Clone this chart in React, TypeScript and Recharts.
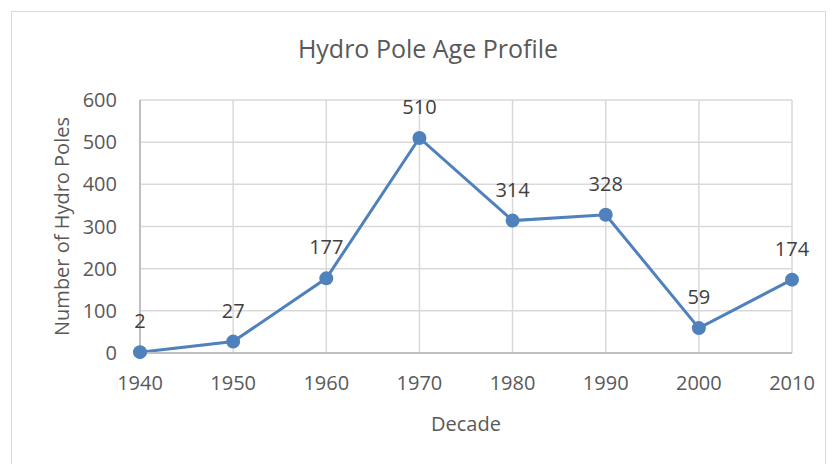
import { LineChart, Line, XAxis, YAxis, CartesianGrid, LabelList } from 'recharts'

const decades = ['1940', '1950', '1960', '1970', '1980', '1990', '2000', '2010']
const poles = [2, 27, 177, 510, 314, 328, 59, 174]
const yTicks = [0, 100, 200, 300, 400, 500, 600]

const font = '"Open Sans", "Liberation Sans", sans-serif'
const blue = '#4F81BD'

export default function App() {
  const data = decades.map((d, i) => ({ decade: d, poles: poles[i] }))

  return (
    <div style={{ position: 'absolute', left: 0, top: 0, width: 832, height: 464, background: '#fff', fontFamily: font, overflow: 'hidden' }}>
      <div style={{ position: 'absolute', left: 11, top: 11, width: 815, height: 470, border: '1px solid #d9d9d9', boxSizing: 'border-box' }} />
      <div style={{ position: 'absolute', left: 0, top: 31, width: 856, textAlign: 'center', fontSize: 25, color: '#595959' }}>
        Hydro Pole Age Profile
      </div>
      <div style={{ position: 'absolute', left: 0, top: 0 }}>
        <LineChart width={832} height={464} data={data} margin={{ top: 100, right: 40, left: 20, bottom: 31 }}>
          <CartesianGrid stroke="#d9d9d9" strokeWidth={1.5} />
          <XAxis
            dataKey="decade"
            height={80}
            tick={{ fontSize: 20, fill: '#595959', fontFamily: font }}
            tickLine={false}
            tickSize={0}
            tickMargin={23}
            axisLine={{ stroke: '#bfbfbf', strokeWidth: 2 }}
            label={{ value: 'Decade', position: 'insideBottom', offset: 2, fontSize: 20, fill: '#595959', fontFamily: font }}
          />
          <YAxis
            domain={[0, 600]}
            ticks={yTicks}
            width={120}
            tick={{ fontSize: 20, fill: '#595959', fontFamily: font }}
            tickLine={false}
            tickSize={0}
            tickMargin={23}
            axisLine={{ stroke: '#bfbfbf', strokeWidth: 2 }}
            label={{ value: 'Number of Hydro Poles', angle: -90, position: 'center', dx: -18, fontSize: 20, fill: '#595959', fontFamily: font }}
          />
          <Line
            type="linear"
            dataKey="poles"
            stroke={blue}
            strokeWidth={3}
            dot={{ fill: blue, stroke: blue, strokeWidth: 0, r: 7 }}
            isAnimationActive={false}
          >
            <LabelList dataKey="poles" position="top" offset={24} style={{ fontSize: 20, fill: '#404040', fontFamily: font }} />
          </Line>
        </LineChart>
      </div>
    </div>
  )
}
